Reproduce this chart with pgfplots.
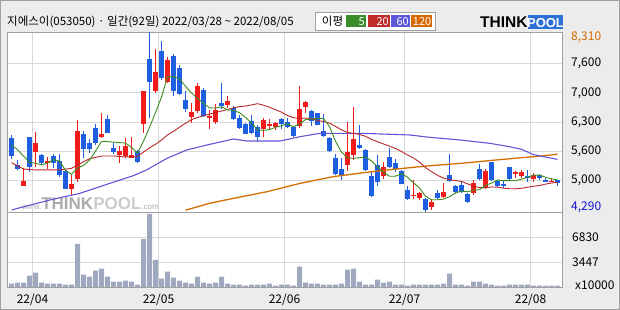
\documentclass[border=0pt]{standalone}
\usepackage{fontspec}
\setmainfont{Noto Sans CJK KR}
\newfontfamily\logofont{Liberation Sans}
\usepackage{pgfplots}
\pgfplotsset{compat=1.18}
\usepackage{pgfplotstable}

\definecolor{bggray}{RGB}{236,236,236}
\definecolor{framegray}{RGB}{160,160,160}
\definecolor{gridgray}{RGB}{216,216,216}
\definecolor{cred}{RGB}{240,28,28}
\definecolor{cblue}{RGB}{30,95,225}
\definecolor{mafive}{RGB}{60,140,30}
\definecolor{matwenty}{RGB}{185,40,40}
\definecolor{masixty}{RGB}{100,85,215}
\definecolor{mahund}{RGB}{215,110,0}
\definecolor{volc}{RGB}{160,168,192}
\definecolor{lgreen}{RGB}{58,140,42}
\definecolor{lred}{RGB}{192,45,40}
\definecolor{lpurple}{RGB}{92,88,215}
\definecolor{lorange}{RGB}{215,105,0}
\definecolor{wmgray}{RGB}{172,172,172}
\definecolor{wmlight}{RGB}{205,205,205}
\definecolor{logoblue}{RGB}{45,110,215}
\definecolor{lblue}{RGB}{20,20,210}

% up (red) candles: i o h l c
\pgfplotstableread{
i o h l c
2 4880 5270 4860 4980
4 5620 6080 5300 5820
6 5380 5520 5260 5430
10 4810 5120 4660 4920
11 5030 6340 4960 6100
15 5970 6510 5940 6030
18 5570 5760 5380 5650
19 5530 5950 5500 5760
20 5500 5970 5490 5560
22 6250 6990 6050 6990
24 7000 7930 6940 7410
26 7200 7760 7180 7680
30 6420 6730 6270 6520
31 6550 7180 6490 7100
33 6380 6570 6140 6430
34 6310 6700 6250 6570
36 6690 6870 6610 6770
42 6140 6400 5970 6340
43 6200 6370 6120 6260
44 6190 6310 6120 6280
48 6200 7100 6170 6590
49 6640 6780 6510 6750
56 5340 6300 5210 5620
57 5560 6630 5450 5920
62 5100 5410 5030 5300
67 4650 5000 4570 4670
68 4600 4740 4560 4710
70 4410 4570 4330 4510
72 4630 4930 4600 4740
77 4720 5000 4670 4930
79 4840 5240 4800 5210
84 5140 5210 5040 5190
85 5090 5230 5060 5180
87 5030 5150 4970 5120
90 4970 5060 4950 4990
}\upc

% down (blue) candles
\pgfplotstableread{
i o h l c
0 5940 6010 5470 5550
1 5350 5450 5220 5240
3 5970 5970 5190 5300
5 5560 5590 5360 5380
7 5550 5590 5270 5380
8 5430 5590 5080 5120
9 5210 5230 4800 4810
12 6030 6100 5500 5700
13 5830 5930 5600 5700
14 6170 6260 5780 5820
16 6360 6460 6050 6060
17 5710 5820 5590 5640
21 5650 5680 5390 5400
23 7710 8310 6380 7190
25 7890 8110 7240 7290
27 7770 7820 6870 7000
28 7510 7570 6900 6930
29 6790 7000 6530 6600
32 7010 7070 6420 6430
35 6730 7180 6580 6660
37 6620 6660 6340 6370
38 6400 6460 6150 6170
39 6260 6270 6030 6040
40 6320 6460 6040 6060
41 6180 6230 5860 5960
45 6370 6400 6140 6250
46 6300 6400 6170 6180
47 6190 6210 5970 5990
50 6550 6570 6200 6330
51 6490 6510 6230 6240
52 6100 6480 5960 5990
53 5950 5970 5640 5660
54 5500 5580 5120 5140
55 5250 5490 5000 5100
58 5790 6230 5700 5730
59 5680 5700 5210 5230
60 5090 5190 4630 4650
61 5350 5560 4860 4970
63 5520 5730 5270 5290
64 5380 5480 5190 5240
65 5210 5230 4920 4920
66 4780 4870 4560 4590
69 4580 4600 4290 4330
71 4710 4780 4580 4600
73 5110 5590 4950 4980
74 4880 4890 4720 4730
75 4890 4970 4710 4740
76 4690 4710 4480 4520
78 5240 5360 5000 5020
80 5400 5400 4990 5000
81 4980 5000 4840 4860
82 4920 5000 4830 4860
83 5300 5300 5000 5030
86 5090 5230 4950 5040
88 5120 5130 5000 5040
89 5010 5040 4950 4960
91 5000 5000 4880 4930
}\dnc

% volume (x10000)
\pgfplotstableread{
i v
0 462
1 600
2 600
3 1562
4 1974
5 600
6 462
7 462
8 462
9 325
10 325
11 5958
12 1699
13 1424
14 2249
15 2524
16 1424
17 737
18 737
19 875
20 737
21 325
22 6645
23 10080
24 3760
25 1149
26 2111
27 1287
28 875
29 600
30 462
31 1424
32 600
33 462
34 600
35 1424
36 462
37 325
38 325
39 188
40 325
41 325
42 325
43 462
44 188
45 325
46 325
47 188
48 2798
49 600
50 462
51 462
52 325
53 325
54 325
55 462
56 2386
57 2524
58 737
59 325
60 325
61 1012
62 600
63 737
64 325
65 325
66 188
67 325
68 325
69 325
70 325
71 325
72 462
73 1837
74 325
75 325
76 188
77 737
78 737
79 462
80 325
81 188
82 188
83 325
84 325
85 325
86 325
87 188
88 188
89 188
90 188
91 188
}\vol

\begin{document}
\begin{tikzpicture}[x=1pt,y=1pt]
\fill[bggray] (0,0) rectangle (620,310);
\draw[framegray, line width=1pt] (0.5,0.5) rectangle (619.5,309.5);
\fill[white] (7,23) rectangle (562,278);

% title
\node[anchor=west, inner sep=0pt, font=\fontsize{11.5}{12}\selectfont] at (7,288) {지에스이(053050) · 일간(92일) 2022/03/28 \textasciitilde{} 2022/08/05};

% legend box
\draw[framegray, fill=white, line width=0.8pt] (315,280) rectangle (435.5,297.7);
\node[anchor=center, inner sep=0pt, font=\fontsize{11.5}{12}\selectfont] at (332.5,288.8) {이평};
\fill[lgreen] (346,282.7) rectangle (366,295);
\fill[lred] (367.6,282.7) rectangle (390,295);
\fill[lpurple] (391.3,282.7) rectangle (410,295);
\fill[lorange] (411,282.7) rectangle (432,295);
\begin{scope}[every node/.style={anchor=east, inner sep=0pt, text=white, font=\fontsize{11}{11}\selectfont}]
\node at (365,288.8) {5};
\node at (389,288.8) {20};
\node at (409,288.8) {60};
\node at (431.5,288.8) {120};
\end{scope}

% logo
\node[anchor=base west, inner sep=0pt, font=\logofont\bfseries\fontsize{15.5}{16}\selectfont] at (480,282.5) {THINK};
\fill[logoblue] (528,281) rectangle (563,294.5);
\node[anchor=base, inner sep=0pt, text=white, font=\logofont\bfseries\fontsize{13}{14}\selectfont] at (545.5,282.5) {POOL};

% watermark
\node[anchor=base west, inner sep=0pt] at (22,100) {{\logofont\fontsize{8}{8}\selectfont\color{wmgray}www.}{\logofont\bfseries\fontsize{17}{17}\selectfont\color{wmgray}THINK}{\logofont\bfseries\fontsize{17}{17}\selectfont\color{wmlight}POOL}{\logofont\fontsize{8}{8}\selectfont\color{wmgray}.com}};

% price panel
\begin{axis}[
  at={(7pt,98pt)}, anchor=south west, scale only axis,
  width=555pt, height=180pt,
  xmin=-0.75, xmax=91.75, ymin=4290, ymax=8310,
  axis line style={draw=framegray, line width=0.9pt},
  xtick={3.5,24.5,45.5,65.5,86.5}, xticklabels={},
  ytick={5000,5650,6300,6950,7600},
  yticklabels={{5,000},{5,600},{6,300},{7,000},{7,600}},
  extra y ticks={8198,4402},
  extra y tick labels={{\textcolor{lorange}{8,310}},{\textcolor{lblue}{4,290}}},
  extra y tick style={grid=none},
  yticklabel pos=right,
  yticklabel style={anchor=west, inner sep=0pt, xshift=9pt, font=\fontsize{12}{12}\selectfont},
  scaled y ticks=false,
  /pgf/number format/assume math mode=true,
  major tick length=0pt,
  grid=major, major grid style={draw=gridgray, line width=0.9pt},
  clip=true,
  candle/.style={draw=none, mark=none, forget plot, error bars/.cd, y dir=both, y explicit, error mark=none},
]
% wicks
\addplot[candle, error bar style={draw=cblue, line width=1pt}]
  table[x=i, y expr={(\thisrow{h}+\thisrow{l})/2}, y error expr={(\thisrow{h}-\thisrow{l})/2}] {\dnc};
\addplot[candle, error bar style={draw=cred, line width=1pt}]
  table[x=i, y expr={(\thisrow{h}+\thisrow{l})/2}, y error expr={(\thisrow{h}-\thisrow{l})/2}] {\upc};
% bodies
\addplot[candle, error bar style={draw=cblue, line width=5pt}]
  table[x=i, y expr={(\thisrow{o}+\thisrow{c})/2}, y error expr={max(abs(\thisrow{o}-\thisrow{c})/2,12)}] {\dnc};
\addplot[candle, error bar style={draw=cred, line width=5pt}]
  table[x=i, y expr={(\thisrow{o}+\thisrow{c})/2}, y error expr={max(abs(\thisrow{o}-\thisrow{c})/2,12)}] {\upc};
% MA120
\addplot[mahund, line width=1.3pt, mark=none] coordinates {
(29,4330)(33,4484)(37,4595)(42.6,4744)(48.1,4930)(53.6,5079)(58.5,5165)(62.5,5228)(66.4,5280)(70.3,5330)(75,5377)(79.5,5436)(85,5503)(88.3,5541)(91,5580)};
% MA60
\addplot[masixty, line width=1.1pt, mark=none] coordinates {
(0,4330)(0.6,4357)(6.4,4558)(11.4,4707)(16.4,4930)(20.3,5101)(22.5,5228)(25.9,5488)(29.2,5675)(33,5800)(37,5920)(39.2,5876)(44.8,5876)(48.1,5972)(51.4,6047)(58.4,6047)(62,6030)(66.4,6010)(69.75,5957)(74.75,5898)(79.75,5823)(83,5749)(85,5690)(87,5570)(91,5465)};
% MA20
\addplot[matwenty, line width=0.9pt, mark=none] coordinates {
(0,5390)(2,5250)(4,5230)(6,5230)(8,5230)(10,5265)(11.7,5390)(13,5480)(15,5540)(17,5540)(19,5520)(20,5520)(21,5528)(22,5629)(23,5723)(24,5803)(25,5898)(26,6011)(27,6092)(28,6182)(29,6272)(30,6352)(31,6402)(32,6438)(33,6475)(34,6512)(35,6544)(36,6579)(37,6616)(38,6642)(39,6656)(40,6681)(41,6709)(42,6676)(43,6630)(44,6573)(45,6521)(46,6446)(47,6396)(48,6379)(49,6386)(50,6377)(51,6334)(52,6312)(53,6273)(54,6202)(55,6124)(56,6066)(57,6044)(58,6022)(59,5981)(60,5911)(61,5861)(62,5809)(63,5761)(64,5709)(65,5642)(66,5563)(67,5497)(68,5403)(69,5282)(70,5191)(71,5109)(72,5046)(73,5012)(74,4992)(75,4974)(76,4919)(77,4869)(78,4834)(79,4833)(80,4850)(81,4845)(82,4823)(83,4810)(84,4807)(85,4820)(86,4843)(87,4865)(88,4881)(89,4913)(90,4937)(91,4953)};
% MA5
\addplot[mafive, line width=0.9pt, mark=none] coordinates {
(0,5790)(1,5680)(2,5540)(3,5400)(4,5378)(5,5344)(6,5382)(7,5462)(8,5426)(9,5224)(10,5132)(11,5266)(12,5330)(13,5446)(14,5648)(15,5870)(16,5862)(17,5850)(18,5840)(19,5828)(20,5734)(21,5602)(22,5872)(23,6180)(24,6510)(25,6856)(26,7312)(27,7314)(28,7262)(29,7100)(30,6946)(31,6830)(32,6716)(33,6616)(34,6610)(35,6638)(36,6572)(37,6560)(38,6508)(39,6402)(40,6282)(41,6120)(42,6114)(43,6132)(44,6180)(45,6218)(46,6262)(47,6192)(48,6258)(49,6352)(50,6368)(51,6380)(52,6380)(53,6194)(54,5872)(55,5626)(56,5502)(57,5488)(58,5502)(59,5520)(60,5430)(61,5300)(62,5176)(63,5088)(64,5090)(65,5144)(66,5068)(67,4942)(68,4826)(69,4644)(70,4562)(71,4564)(72,4578)(73,4632)(74,4712)(75,4758)(76,4742)(77,4780)(78,4788)(79,4884)(80,4936)(81,5004)(82,4990)(83,4992)(84,4988)(85,5024)(86,5060)(87,5112)(88,5114)(89,5068)(90,5030)(91,5008)};
\end{axis}

% volume panel
\begin{axis}[
  at={(7pt,23pt)}, anchor=south west, scale only axis,
  width=555pt, height=75pt,
  xmin=-0.75, xmax=91.75, ymin=0, ymax=10354,
  axis line style={draw=framegray, line width=0.9pt},
  xtick={3.5,24.5,45.5,65.5,86.5},
  xticklabels={22/04,22/05,22/06,22/07,22/08},
  xticklabel style={anchor=center, inner sep=0pt, yshift=-13pt, font=\fontsize{12}{12}\selectfont},
  ytick={3447,6830}, yticklabels={3447,6830},
  scaled y ticks=false,
  yticklabel pos=right,
  yticklabel style={anchor=west, inner sep=0pt, xshift=10pt, font=\fontsize{12}{12}\selectfont},
  /pgf/number format/assume math mode=true,
  major tick length=0pt,
  grid=major, major grid style={draw=gridgray, line width=0.9pt},
]
\addplot[ybar, bar width=5pt, fill=volc, draw=none] table[x=i, y=v] {\vol};
\end{axis}
\node[anchor=west, inner sep=0pt, font=\fontsize{12}{12}\selectfont] at (575,24.5) {x10000};
\end{tikzpicture}
\end{document}
